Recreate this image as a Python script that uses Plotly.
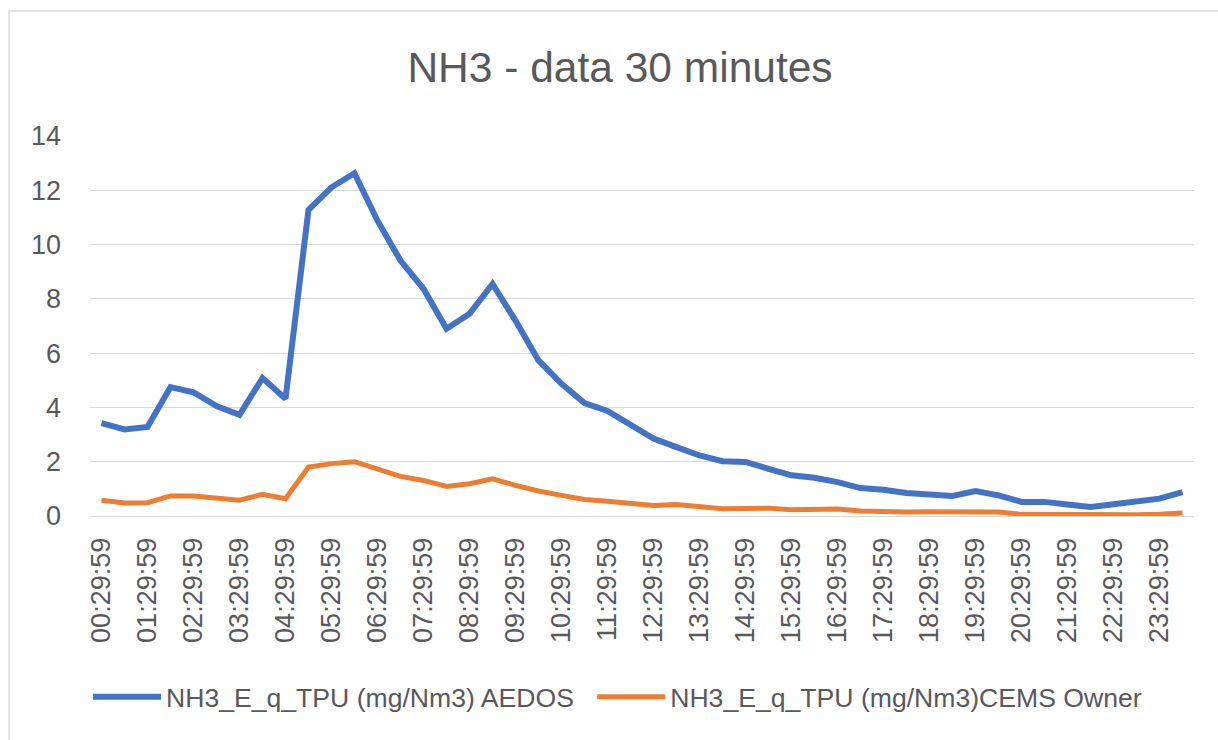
import plotly.graph_objects as go

# Categories: 30-minute timestamps
times = []
for h in range(24):
    times.append(f"{h:02d}:29:59")
    times.append(f"{h:02d}:59:59")

# Tick labels shown (every hour at :29:59)
tick_labels = [f"{h:02d}:29:59" for h in range(24)]

aedos = [3.42, 3.19, 3.28, 4.75, 4.56, 4.05, 3.73, 5.08, 4.32, 11.28,
         12.11, 12.63, 10.88, 9.41, 8.37, 6.90, 7.45, 8.55, 7.20, 5.73,
         4.87, 4.16, 3.87, 3.37, 2.85, 2.54, 2.23, 2.02, 1.99, 1.74,
         1.50, 1.41, 1.25, 1.03, 0.97, 0.85, 0.82, 0.74, 0.92, 0.76,
         0.52, 0.52, 0.42, 0.33, 0.43, 0.52, 0.64, 0.88]

cems_owner = [0.58, 0.48, 0.49, 0.74, 0.74, 0.66, 0.58, 0.80, 0.64, 1.80,
              1.93, 2.00, 1.74, 1.46, 1.31, 1.09, 1.19, 1.37, 1.13, 0.92,
              0.76, 0.61, 0.54, 0.45, 0.39, 0.42, 0.33, 0.27, 0.28, 0.29,
              0.23, 0.25, 0.26, 0.18, 0.15, 0.15, 0.16, 0.16, 0.16, 0.15,
              0.06, 0.05, 0.05, 0.05, 0.05, 0.05, 0.06, 0.11]

series_names = ["NH3_E_q_TPU (mg/Nm3) AEDOS", "NH3_E_q_TPU (mg/Nm3)CEMS Owner"]
y_ticks = [0, 2, 4, 6, 8, 10, 12, 14]

TEXT = "#595959"
GRID = "#D9D9D9"
FONT = "Liberation Sans"

fig = go.Figure()
fig.add_trace(go.Scatter(x=times, y=aedos, mode="lines",
                         name=series_names[0] + "\u2002",
                         line=dict(color="#4472C4", width=6)))
fig.add_trace(go.Scatter(x=times, y=cems_owner, mode="lines", name=series_names[1],
                         line=dict(color="#ED7D31", width=5)))

W, H = 1218, 740
L, R, T, B = 90, 24, 136, 224
pw = W - L - R
ph = H - T - B

fig.update_layout(
    width=W, height=H,
    margin=dict(l=L, r=R, t=T, b=B),
    paper_bgcolor="white", plot_bgcolor="white",
    font=dict(family=FONT, color=TEXT),
    title=dict(text="NH3 - data 30 minutes", x=620 / W, xanchor="center",
               y=1 - 67 / H, yanchor="middle", yref="container",
               font=dict(size=42.5, color=TEXT, family=FONT)),
    xaxis=dict(type="category", categoryorder="array", categoryarray=times,
               range=[-0.5, len(times) - 0.5],
               tickmode="array", tickvals=tick_labels, ticktext=tick_labels,
               tickangle=-90, tickfont=dict(size=27, color=TEXT),
               ticklabelstandoff=10,
               showgrid=False, showline=True, linecolor=GRID, linewidth=1,
               ticks="", zeroline=False, automargin=False),
    yaxis=dict(range=[0, 14], tickvals=y_ticks, showgrid=True, gridcolor=GRID,
               gridwidth=1, zeroline=False, showline=False, ticks="",
               tickfont=dict(size=27, color=TEXT), ticklabelstandoff=28,
               automargin=False),
    legend=dict(orientation="h", x=-2 / pw, xanchor="left",
                y=(T + ph - 697) / ph, yanchor="middle",
                font=dict(size=26.6, color=TEXT), itemwidth=68,
                bgcolor="rgba(0,0,0,0)"),
    shapes=[dict(type="rect", xref="paper", yref="paper",
                 x0=(9 - L) / pw, x1=(1240 - L) / pw,
                 y0=(T + ph - 760) / ph, y1=(T + ph - 11) / ph,
                 line=dict(color=GRID, width=1.5), fillcolor="rgba(0,0,0,0)")],
)

fig.write_html("out.html", config={"displayModeBar": False},
               post_script="document.body.style.margin='0';")
